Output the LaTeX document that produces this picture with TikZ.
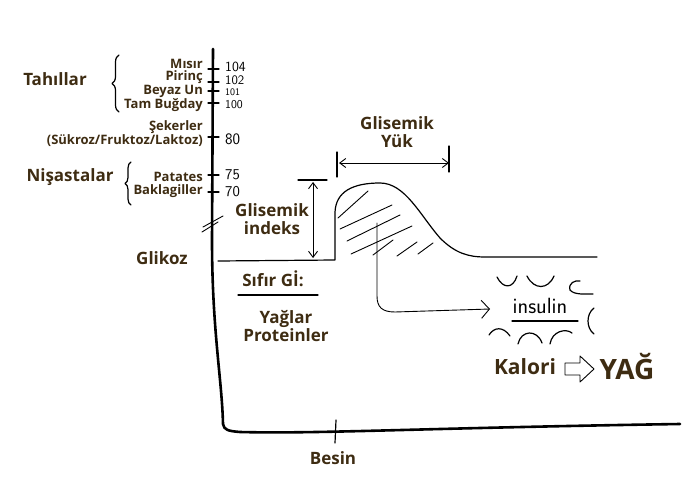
\documentclass[tikz,border=0pt]{standalone}
\usepackage{fontspec}
\setmainfont{Open Sans}
\usetikzlibrary{arrows.meta,decorations.pathreplacing}
\definecolor{txtbrown}{HTML}{3E2C12}
\tikzset{
  lbl/.style={font=\bfseries\fontsize{13}{13}\selectfont, text=txtbrown, inner sep=0pt},
  head/.style={font=\bfseries\fontsize{17}{19}\selectfont, text=txtbrown, inner sep=0pt, align=center},
  hand/.style={font=\sffamily\fontsize{#1}{12}\selectfont, inner sep=0pt, anchor=west},
  axisline/.style={line width=2.6pt, line cap=round, line join=round},
  pen/.style={line width=1.2pt, line cap=round, line join=round},
  thin pen/.style={line width=0.9pt, line cap=round},
  twobarb/.style={{Straight Barb[length=6pt,width=9pt]}-{Straight Barb[length=6pt,width=9pt]}},
}
\begin{document}
\begin{tikzpicture}[x=1pt, y=-1pt]
  \useasboundingbox (0,0) rectangle (690,500);
  % axes
  \draw[axisline] (213,49) -- (212,240) .. controls (212,330) and (222,380) .. (223,424)
    .. controls (224,430) and (228,431) .. (240,432) .. controls (320,434) and (420,428) .. (680,424);
  \draw[thin pen] (202,232) -- (218,222);
  \draw[thin pen] (203,227) -- (223,216);
  % ticks on the food scale
  \foreach \y in {69, 82, 91, 103, 137, 175, 192}
    \draw[pen] (208,\y) -- (219,\y);
  \foreach \y/\v/\s in {67/104/14, 80.5/102/13, 92/101/10, 105/100/12, 139/80/16, 175/75/15, 192/70/15}
    \node[hand=\s] at (225,\y) {\v};
  \draw[pen] (336,420) -- (335,443);
  % food labels
  \node[lbl, anchor=east] (misir) at (203,64) {Mısır};
  \node[lbl, anchor=east] (pirinc) at (203,77) {Pirinç};
  \node[lbl, anchor=east] (beyaz) at (203,91) {Beyaz Un};
  \node[lbl, anchor=east] (bugday) at (203,105) {Tam Buğday};
  \node[lbl, anchor=east] (seker) at (203,127) {Şekerler};
  \node[lbl, anchor=east] (sukroz) at (203,141) {(Sükroz/Fruktoz/Laktoz)};
  \node[lbl, anchor=east] (patates) at (203,177) {Patates};
  \node[lbl, anchor=east] (bakla) at (203,191) {Baklagiller};
  \node[head] (tahil) at (55,79) {Tahıllar};
  \node[head] (nisasta) at (70,177) {Nişastalar};
  \draw[pen, decorate, decoration={brace, amplitude=7pt}] (119,112) -- (119,55);
  \draw[pen, decorate, decoration={brace, amplitude=6pt}] (131,205) -- (131,162);
  \node[head] (glikoz) at (162,258) {Glikoz};
  % glucose curve
  \draw[pen] (218,261) -- (335,260) -- (335,212) .. controls (336,192) and (352,183) .. (380,183)
    .. controls (405,183) and (420,215) .. (440,238) .. controls (455,253) and (468,257) .. (485,257) -- (597,257);
  \foreach \a/\b/\c/\d in {338/218/368/191, 340/229/392/205, 347/241/400/215, 351/254/412/226,
      373/255/393/240, 397/256/417/242, 418/254/433/243} {
    \draw[thin pen] (\a,\b) -- (\c,\d);
  }
  % glisemik indeks
  \coordinate (gitop) at (313,182);
  \coordinate (gibot) at (313,258);
  \draw[pen] (298,180) -- (327,180);
  \draw[thin pen, twobarb] (gitop) -- (gibot);
  \node[head] (gi) at (272,219) {Glisemik\\[-1pt]indeks};
  % glisemik yuk
  \coordinate (gyl) at (339,163);
  \coordinate (gyr) at (449,163);
  \draw[pen] (337,152) -- (337,177);
  \draw[pen] (449,146) -- (449,172);
  \draw[thin pen, twobarb] (gyl) -- (gyr);
  \node[head] (gy) at (397,132) {Glisemik\\[-1pt]Yük};
  % sifir gi
  \node[head] (sifir) at (273,279) {Sıfır Gİ:};
  \draw[pen] (238,295) -- (318,295);
  \node[head] (yag) at (286,326) {Yağlar\\[-1pt]Proteinler};
  % insulin
  \node[font=\sffamily\fontsize{22}{22}\selectfont, inner sep=0pt] (ins) at (540,306) {insulin};
  \draw[pen] (512,321) -- (578,321);
  \coordinate (drop) at (377,223);
  \coordinate (insin) at (490,309);
  \draw[thin pen, -{Straight Barb[length=8pt,width=18pt]}] (drop) -- (377,296)
    .. controls (377,307) and (382,312) .. (395,312) -- (insin);
  \draw[pen] (497,277) .. controls (503,289) and (513,289) .. (517,276);
  \draw[pen] (527,276) .. controls (534,290) and (548,290) .. (554,276);
  \draw[pen] (570,290) .. controls (568,283) and (575,280) .. (580,281);
  \draw[pen] (570,290) .. controls (574,295) and (585,294) .. (593,294);
  \draw[pen] (594,308) .. controls (586,314) and (586,328) .. (594,334);
  \draw[pen] (489,335) .. controls (494,327) and (503,326) .. (510,336);
  \draw[pen] (518,344) .. controls (521,330) and (537,329) .. (542,343);
  \draw[pen] (550,344) .. controls (552,331) and (566,328) .. (572,333);
  % kalori
  \node[head, font=\bfseries\fontsize{21}{22}\selectfont] (kalori) at (525,367) {Kalori};
  \node[head, font=\bfseries\fontsize{28}{30}\selectfont] (yagfat) at (627,367) {YAĞ};
  \draw[thin pen, line join=round] (565,363) -- (580,363) -- (580,356) -- (594,369) -- (580,382) -- (580,375) -- (565,375) -- cycle;
  \node[head] (besin) at (333,458) {Besin};
\end{tikzpicture}
\end{document}
